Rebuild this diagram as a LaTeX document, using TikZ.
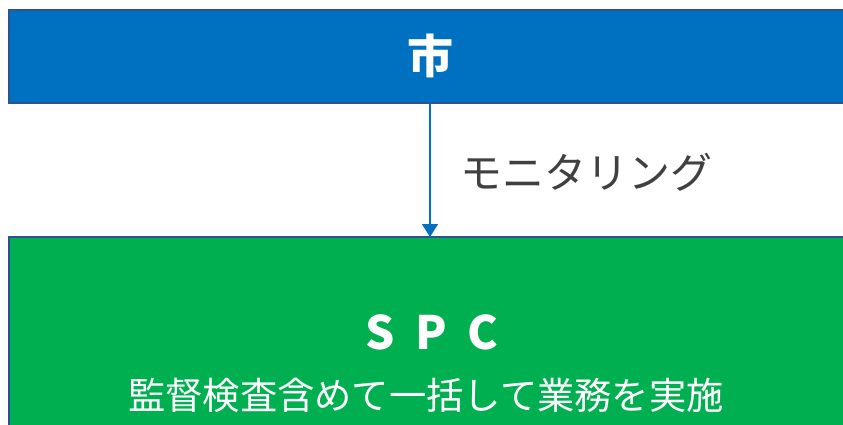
\documentclass[tikz,border=0pt]{standalone}
\usepackage{fontspec}
\setmainfont{Noto Sans CJK JP}
\usetikzlibrary{arrows.meta}
\definecolor{cityblue}{HTML}{0070C0}
\definecolor{spcgreen}{HTML}{00B050}
\definecolor{edgeblue}{HTML}{2F528F}
\definecolor{labelgray}{HTML}{404040}
\tikzset{
  box/.style={rectangle, draw=edgeblue, line width=1.2pt, minimum width=842pt, inner sep=0pt},
  boxtext/.style={text=white, inner sep=0pt},
  flow/.style={draw=cityblue, line width=1.2pt, -{Triangle[width=16pt,length=13pt]}}
}
\begin{document}
\begin{tikzpicture}[x=1pt,y=1pt]
\useasboundingbox (0,0) rectangle (843,-425);
\clip (0,0) rectangle (843,-425);
\node[box, fill=cityblue, minimum height=93pt] (city) at (430,-56.5) {};
\node[box, fill=spcgreen, minimum height=220pt] (spc) at (430,-347) {};
\node[boxtext, font=\fontsize{46}{50}\selectfont\bfseries] (citylabel) at (430,-56) {市};
\node[boxtext, font=\fontsize{46}{50}\selectfont\bfseries] (spclabel) at (432,-332) {S\hspace{0.45em}P\hspace{0.45em}C};
\node[boxtext, font=\fontsize{37.3}{44}\selectfont] (spcsub) at (426,-395) {監督検査含めて一括して業務を実施};
\coordinate (arrowtop) at (430,-103);
\coordinate (arrowend) at (430,-237);
\draw[flow] (arrowtop) -- (arrowend);
\node[text=labelgray, font=\fontsize{42}{48}\selectfont, anchor=west, inner sep=0pt] (monitor) at (460,-172) {モニタリング};
\end{tikzpicture}
\end{document}
